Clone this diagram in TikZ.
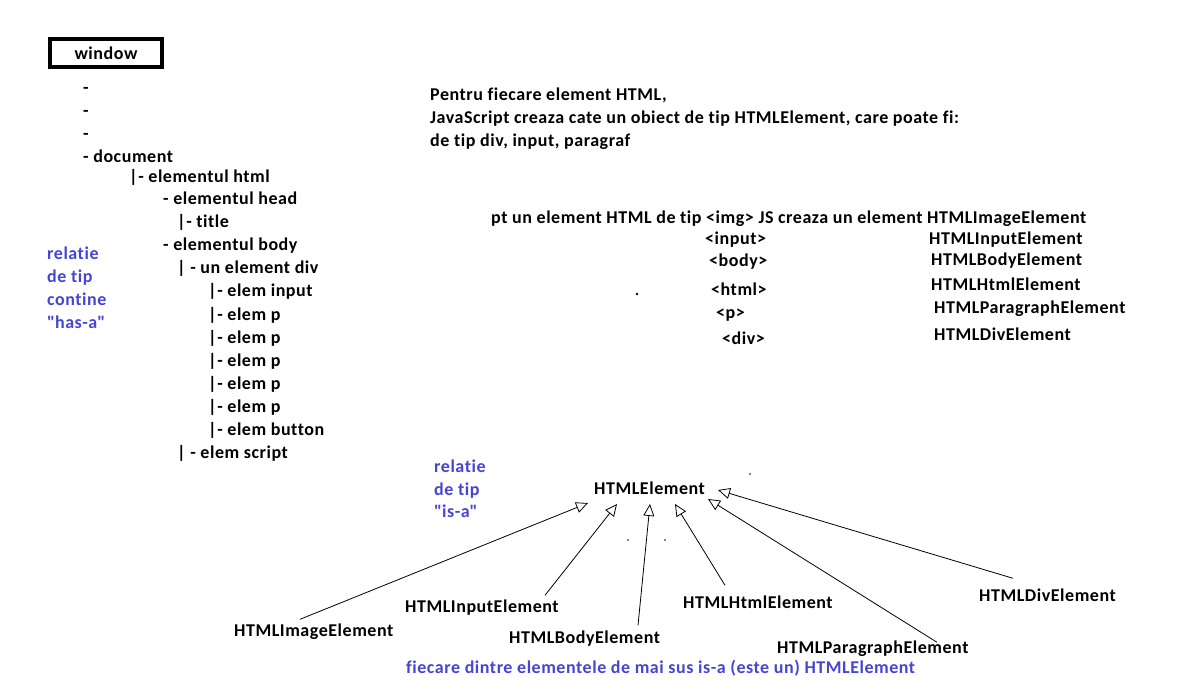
\documentclass[tikz,border=0pt]{standalone}
\usepackage{fontspec}
\setmainfont{Carlito}[LetterSpace=3,Ligatures={NoCommon,NoRare}]
\usetikzlibrary{arrows.meta}
\definecolor{relblue}{RGB}{70,70,210}

\begin{document}
\begin{tikzpicture}[
    % pixel grid of the reference, y going down
    x=1pt, y=-1pt,
    % general settings
    font=\fontsize{18}{21}\selectfont\bfseries,
    % nodes
    txt/.style={anchor=west, inner sep=0pt, text height=11pt, text depth=4pt, yshift=-1.5pt},
    rel/.style={txt, text=relblue},
    winbox/.style={rectangle, draw=black, line width=4pt, minimum width=112pt,
                   minimum height=28pt, inner sep=0pt},
    % arrows
    isa/.style={black, line width=0.8pt, -{Triangle[open,length=12pt,width=11pt]}}
  ]

  \useasboundingbox[fill=white] (0,0) rectangle (1201,700);

  % has-a tree
  \node (window)   [winbox] at (106,53)   {window};
  \node (d1)       [txt] at (83,89)       {-};
  \node (d2)       [txt] at (83,112)      {-};
  \node (d3)       [txt] at (83,135)      {-};
  \node (document) [txt] at (83,158)      {- document};
  \node (html)     [txt] at (129,178)     {|- elementul html};
  \node (head)     [txt] at (163,200)     {- elementul head};
  \node (title)    [txt] at (177,223)     {|- title};
  \node (body)     [txt] at (163,246)     {- elementul body};
  \node (div)      [txt] at (177,269)     {| - un element div};
  \node (input)    [txt] at (208,292)     {|- elem input};
  \foreach \i/\y in {1/315,2/338,3/361,4/384,5/407}
    \node (p\i)    [txt] at (208,\y)      {|- elem p};
  \node (button)   [txt] at (208,430)     {|- elem button};
  \node (script)   [txt] at (177,453)     {| - elem script};

  \node (hasa)     [rel] at (47,255)      {relatie};
  \node (hasa2)    [rel] at (47,278)      {de tip};
  \node (hasa3)    [rel] at (47,301)      {contine};
  \node (hasa4)    [rel] at (47,324)      {\textquotedbl has-a\textquotedbl};

  % explanation
  \node (expl1)    [txt] at (430,96)      {Pentru fiecare element HTML,};
  \node (expl2)    [txt] at (430,119)     {JavaScript creaza cate un obiect de tip HTMLElement, care poate fi:};
  \node (expl3)    [txt] at (430,142)     {de tip div, input, paragraf};

  \node (ptimg)    [txt] at (491,219)     {pt un element HTML de tip <img> JS creaza un element HTMLImageElement};
  \node (tinput)   [txt] at (705,240)     {<input>};
  \node (tbody)    [txt] at (709,262)     {<body>};
  \node (thtml)    [txt] at (711,291)     {<html>};
  \node (tp)       [txt] at (716,314)     {<p>};
  \node (tdiv)     [txt] at (722,339)     {<div>};
  \node (cinput)   [txt] at (929,240)     {HTMLInputElement};
  \node (cbody)    [txt] at (931,261)     {HTMLBodyElement};
  \node (chtml)    [txt] at (931,286)     {HTMLHtmlElement};
  \node (cpar)     [txt] at (934,309)     {HTMLParagraphElement};
  \node (cdiv)     [txt] at (934,335)     {HTMLDivElement};
  \fill (637,294) circle (1.4pt);

  % is-a hierarchy
  \node (isa1)     [rel] at (434,467)     {relatie};
  \node (isa2)     [rel] at (434,490)     {de tip};
  \node (isa3)     [rel] at (434,512)     {\textquotedbl is-a\textquotedbl};

  \node (htmlel)   [txt] at (594,489)     {HTMLElement};
  \fill (750,474) circle (0.8pt);
  \fill (628,540) circle (0.8pt);
  \fill (665,540) circle (0.8pt);

  \node (eimg)     [txt] at (234,631)     {HTMLImageElement};
  \node (einput)   [txt] at (405,607)     {HTMLInputElement};
  \node (ebody)    [txt] at (509,638)     {HTMLBodyElement};
  \node (ehtml)    [txt] at (683,603)     {HTMLHtmlElement};
  \node (epar)     [txt] at (777,648)     {HTMLParagraphElement};
  \node (ediv)     [txt] at (979,596)     {HTMLDivElement};

  \node (note)     [rel] at (406,668)     {fiecare dintre elementele de mai sus is-a (este un) HTMLElement};

  \coordinate (timg)  at (588,503);
  \coordinate (tinp)  at (617,504);
  \coordinate (tbdy)  at (650,504);
  \coordinate (thtm)  at (675,504);
  \coordinate (tpar)  at (708,499);
  \coordinate (tdv)   at (718,490);

  \draw[isa] ([shift={(66,-5.5)}]eimg.north west)    -- (timg);
  \draw[isa] ([shift={(140,-5.5)}]einput.north west) -- (tinp);
  \draw[isa] ([shift={(129,-6.5)}]ebody.north west)  -- (tbdy);
  \draw[isa] ([shift={(42,-11.5)}]ehtml.north west)  -- (thtm);
  \draw[isa] ([shift={(160,0.5)}]epar.north west)    -- (tpar);
  \draw[isa] ([shift={(34,-11.5)}]ediv.north west)   -- (tdv);
\end{tikzpicture}
\end{document}
